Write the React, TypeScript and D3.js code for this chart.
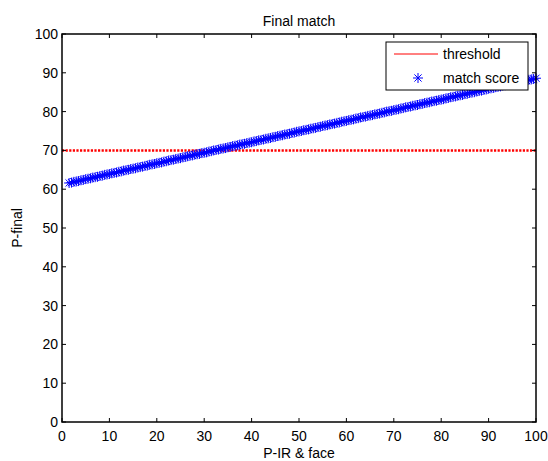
import React, { useRef, useEffect } from 'react'
import * as d3 from 'd3'

// match score values (x from 1.5 to 100 in 0.5 steps)
const matchScore = [
  61.6, 61.7, 61.9, 62.0, 62.1, 62.3, 62.4, 62.6, 62.7, 62.8,
  63.0, 63.1, 63.2, 63.4, 63.5, 63.7, 63.8, 63.9, 64.1, 64.2,
  64.3, 64.5, 64.6, 64.8, 64.9, 65.0, 65.2, 65.3, 65.4, 65.6,
  65.7, 65.8, 66.0, 66.1, 66.3, 66.4, 66.5, 66.7, 66.8, 66.9,
  67.1, 67.2, 67.4, 67.5, 67.6, 67.8, 67.9, 68.0, 68.2, 68.3,
  68.5, 68.6, 68.7, 68.9, 69.0, 69.1, 69.3, 69.4, 69.5, 69.7,
  69.8, 70.0, 70.1, 70.2, 70.4, 70.5, 70.6, 70.8, 70.9, 71.1,
  71.2, 71.3, 71.5, 71.6, 71.7, 71.9, 72.0, 72.1, 72.3, 72.4,
  72.6, 72.7, 72.8, 73.0, 73.1, 73.2, 73.4, 73.5, 73.7, 73.8,
  73.9, 74.1, 74.2, 74.3, 74.5, 74.6, 74.8, 74.9, 75.0, 75.2,
  75.3, 75.4, 75.6, 75.7, 75.8, 76.0, 76.1, 76.3, 76.4, 76.5,
  76.7, 76.8, 76.9, 77.1, 77.2, 77.4, 77.5, 77.6, 77.8, 77.9,
  78.0, 78.2, 78.3, 78.5, 78.6, 78.7, 78.9, 79.0, 79.1, 79.3,
  79.4, 79.5, 79.7, 79.8, 80.0, 80.1, 80.2, 80.4, 80.5, 80.6,
  80.8, 80.9, 81.1, 81.2, 81.3, 81.5, 81.6, 81.7, 81.9, 82.0,
  82.2, 82.3, 82.4, 82.6, 82.7, 82.8, 83.0, 83.1, 83.2, 83.4,
  83.5, 83.7, 83.8, 83.9, 84.1, 84.2, 84.3, 84.5, 84.6, 84.8,
  84.9, 85.0, 85.2, 85.3, 85.4, 85.6, 85.7, 85.9, 86.0, 86.1,
  86.3, 86.4, 86.5, 86.7, 86.8, 87.0, 87.1, 87.2, 87.4, 87.5,
  87.6, 87.8, 87.9, 88.0, 88.2, 88.3, 88.4, 88.6,
]
const matchX = d3.range(1.5, 100.01, 0.5)
const threshold = 70
const xTicks = [0, 10, 20, 30, 40, 50, 60, 70, 80, 90, 100]
const yTicks = [0, 10, 20, 30, 40, 50, 60, 70, 80, 90, 100]
const legendItems = ['threshold', 'match score']

const W = 548
const H = 461
const margin = { top: 34, right: 12, bottom: 39, left: 62 }
const font = 'Arial, "Liberation Sans", sans-serif'
const fs = 14

// matlab style '*' marker
const starPath = (r) => {
  const d = r * 0.72
  return `M${-r},0L${r},0M0,${-r}L0,${r}M${-d},${-d}L${d},${d}M${-d},${d}L${d},${-d}`
}

export default function App() {
  const svgRef = useRef()

  useEffect(() => {
    const svg = d3.select(svgRef.current)
    svg.selectAll('*').remove()

    const x = d3.scaleLinear().domain([0, 100]).range([margin.left, W - margin.right])
    const y = d3.scaleLinear().domain([0, 100]).range([H - margin.bottom, margin.top])
    const [x0, x1] = x.range()
    const [y0, y1] = y.range()

    // threshold
    svg
      .append('line')
      .attr('x1', x(0))
      .attr('x2', x(100))
      .attr('y1', y(threshold))
      .attr('y2', y(threshold))
      .attr('stroke', '#ff0000')
      .attr('stroke-width', 2.5)
      .attr('stroke-dasharray', '2.2,1.4')

    // match score markers
    svg
      .append('g')
      .selectAll('path')
      .data(matchScore)
      .join('path')
      .attr('transform', (d, i) => `translate(${x(matchX[i])},${y(d)})`)
      .attr('d', starPath(5))
      .attr('stroke', '#0000ff')
      .attr('stroke-width', 1)
      .attr('fill', 'none')

    // box
    svg
      .append('rect')
      .attr('x', x0)
      .attr('y', y1)
      .attr('width', x1 - x0)
      .attr('height', y0 - y1)
      .attr('fill', 'none')
      .attr('stroke', '#000')
      .attr('stroke-width', 1.5)

    const tl = 4
    // ticks inward on all four sides
    const xt = svg.append('g').attr('font-family', font).attr('font-size', fs)
    xTicks.forEach((t) => {
      xt.append('line').attr('x1', x(t)).attr('x2', x(t)).attr('y1', y0).attr('y2', y0 - tl).attr('stroke', '#000')
      xt.append('line').attr('x1', x(t)).attr('x2', x(t)).attr('y1', y1).attr('y2', y1 + tl).attr('stroke', '#000')
      xt.append('text').attr('x', x(t)).attr('y', y0 + 19).attr('text-anchor', 'middle').text(t)
    })
    yTicks.forEach((t) => {
      xt.append('line').attr('x1', x0).attr('x2', x0 + tl).attr('y1', y(t)).attr('y2', y(t)).attr('stroke', '#000')
      xt.append('line').attr('x1', x1).attr('x2', x1 - tl).attr('y1', y(t)).attr('y2', y(t)).attr('stroke', '#000')
      xt.append('text').attr('x', x0 - 4).attr('y', y(t) + 5).attr('text-anchor', 'end').text(t)
    })

    // title and labels
    svg
      .append('text')
      .attr('x', (x0 + x1) / 2)
      .attr('y', y1 - 8)
      .attr('text-anchor', 'middle')
      .attr('font-family', font)
      .attr('font-size', fs)
      .text('Final match')
    svg
      .append('text')
      .attr('x', (x0 + x1) / 2)
      .attr('y', y0 + 36)
      .attr('text-anchor', 'middle')
      .attr('font-family', font)
      .attr('font-size', fs)
      .text('P-IR & face')
    svg
      .append('text')
      .attr('transform', `translate(22,${(y0 + y1) / 2}) rotate(-90)`)
      .attr('text-anchor', 'middle')
      .attr('font-family', font)
      .attr('font-size', fs)
      .text('P-final')

    // legend
    const lg = svg.append('g').attr('transform', 'translate(386,42)')
    lg.append('rect')
      .attr('width', 142)
      .attr('height', 48)
      .attr('fill', '#fff')
      .attr('stroke', '#000')
      .attr('stroke-width', 1)
    lg.append('line')
      .attr('x1', 8)
      .attr('x2', 52)
      .attr('y1', 12)
      .attr('y2', 12)
      .attr('stroke', '#ff0000')
      .attr('stroke-width', 1)
    lg.append('path')
      .attr('transform', 'translate(32,36)')
      .attr('d', starPath(5))
      .attr('stroke', '#0000ff')
      .attr('fill', 'none')
    lg.selectAll('text')
      .data(legendItems)
      .join('text')
      .attr('x', 57)
      .attr('y', (d, i) => 17 + i * 24)
      .attr('font-family', font)
      .attr('font-size', fs)
      .text((d) => d)
  }, [])

  return <svg ref={svgRef} width={W} height={H} style={{ position: 'absolute', left: 0, top: 0, background: '#fff' }} />
}
